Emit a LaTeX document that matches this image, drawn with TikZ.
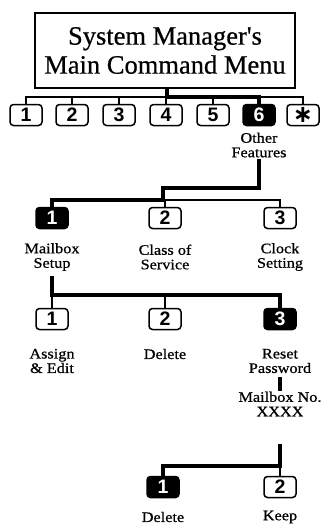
\documentclass[tikz,border=0pt]{standalone}
\usepackage{fontspec}
\setmainfont{Liberation Serif}
\newfontfamily\titlefont[FakeBold=0.6]{Liberation Serif}
\newfontfamily\labelfont[FakeStretch=1.12,FakeBold=0.7]{Liberation Serif}
\newfontfamily\keyfont{Liberation Sans}
\newfontfamily\symfont{DejaVu Sans}
\usetikzlibrary{positioning,calc}
\tikzset{
    keybox/.style={draw=black,fill=white,line width=1.5pt,rounded corners=3.5pt,
        minimum width=32pt,minimum height=21pt,inner sep=0pt,
        font=\keyfont\fontsize{19.5}{19.5}\selectfont\bfseries},
    keyblack/.style={keybox,fill=black,text=white},
    keylabel/.style={align=center,inner sep=1pt,
        font=\labelfont\fontsize{14.5}{14.5}\selectfont},
    thinline/.style={draw=black,line width=1.2pt},
    thickline/.style={draw=black,line width=4.2pt,line join=miter}
}
\begin{document}
\begin{tikzpicture}[x=1pt,y=-1pt]
    \useasboundingbox (0,0) rectangle (329,528);
    % main menu
    \node[draw=black,line width=1.5pt,minimum width=260pt,minimum height=75pt,
        align=center,font=\titlefont\fontsize{26.5}{29}\selectfont] (menu) at (165,50.5)
        {System Manager's\\Main Command Menu};
    \node[keybox] (k1) at (26,115) {1};
    \node[keybox] (k2) at (72,115) {2};
    \node[keybox] (k3) at (119,115) {3};
    \node[keybox] (k4) at (166,115) {4};
    \node[keybox] (k5) at (213,115) {5};
    \node[keyblack] (k6) at (259,115) {6};
    \node[keybox,font=\symfont\bfseries\fontsize{24}{24}\selectfont] (k7) at (303,115) {∗};
    \node[keylabel] (other) at (259,145) {Other\\Features};
    \coordinate (bus1) at (167,97);
    \draw[thinline] (k1.north) |- (bus1) -| (k7.north);
    \foreach \k in {k2,k3,k4,k5} {
        \draw[thinline] (\k.north) -- (\k.north |- bus1);
    }
    \draw[thickline] (menu.south -| bus1) -- (bus1) -| (k6.north);
    % other features
    \node[keyblack] (f1) at (52,218) {1};
    \node[keybox] (f2) at (165,218) {2};
    \node[keybox] (f3) at (280,218) {3};
    \node[keylabel] (mailbox) at (52,257) {Mailbox\\Setup};
    \node[keylabel] (cos) at (165,257) {Class of\\Service};
    \node[keylabel] (clock) at (280,257) {Clock\\Setting};
    \coordinate (bus2a) at (163,188);
    \coordinate (bus2) at (163,200);
    \draw[thickline] (other.south) |- (bus2a) -- (bus2) -| (f1.north);
    \draw[thinline] (bus2) -| (f3.north);
    \draw[thinline] (f2.north |- bus2) -- (f2.north);
    % mailbox setup
    \node[keyblack] (s3) at (280,319) {3};
    \node[keybox] (s1) at (52,319) {1};
    \node[keybox] (s2) at (165,319) {2};
    \node[keylabel] (assign) at (52,361) {Assign\\\& Edit};
    \node[keylabel] (delete) at (165,354) {Delete};
    \node[keylabel] (reset) at (280,361) {Reset\\Password};
    \coordinate (bus3) at (52,295);
    \draw[thickline] (mailbox.south) ++(0,4) coordinate (stub) -- (bus3) -| (s3.north);
    \draw[thinline] (bus3) -- (s1.north);
    \draw[thinline] (s2.north |- bus3) -- (s2.north);
    % reset password
    \node[keylabel] (mbno) at (280,404) {Mailbox No.\\XXXX};
    \draw[draw=black,line width=4pt] (reset.south) ++(0,3) coordinate (pw) -- (pw |- mbno.north);
    \node[keyblack] (d1) at (163,487) {1};
    \node[keybox] (d2) at (280,487) {2};
    \node[keylabel] (del) at (163,517) {Delete};
    \node[keylabel] (keep) at (280,517) {Keep};
    \coordinate (bus4) at (280,466);
    \draw[thickline] (mbno.south) ++(0,27) coordinate (mb) -- (bus4) -| (d1.north);
    \draw[thinline] (bus4) -- (d2.north);
\end{tikzpicture}
\end{document}
